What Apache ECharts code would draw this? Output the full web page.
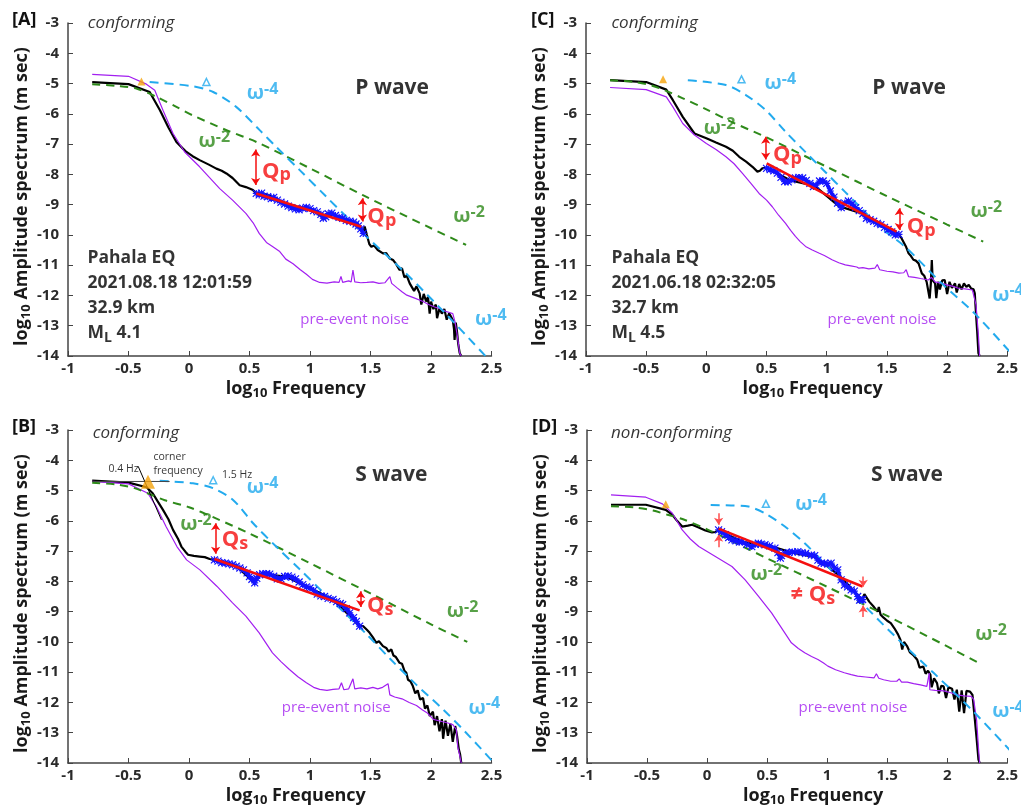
<!DOCTYPE html>
<html><head><meta charset="utf-8">
<script src="https://cdn.jsdelivr.net/npm/echarts@6/dist/echarts.min.js"></script>
<style>html,body{margin:0;padding:0;background:#fff}#c{width:1021px;height:809px}</style>
</head><body><div id="c"></div><script>
// ---------- tick labels ----------
const xTicks = [-1, -0.5, 0, 0.5, 1, 1.5, 2, 2.5];
const yTicks = [-14, -13, -12, -11, -10, -9, -8, -7, -6, -5, -4, -3];

// ---------- Panel A (P wave, 2021.08.18) ----------
const A_black = [[-0.8,-4.95],[-0.5,-5.02],[-0.325,-5.28],[-0.24,-5.88],[-0.17,-6.45],[-0.104,-6.93],[-0.05,-7.15],[-0.021,-7.26],[0.03,-7.4],[0.088,-7.53],[0.16,-7.67],[0.226,-7.81],[0.27,-7.88],[0.309,-7.97],[0.36,-8.12],[0.419,-8.36],[0.47,-8.42],[0.529,-8.52],[0.556,-8.63],
 [0.6,-8.62],[0.7,-8.76],[0.8,-9.0],[0.9,-9.15],[1.0,-9.13],[1.1,-9.4],[1.2,-9.33],[1.3,-9.52],[1.4,-9.7],[1.44,-9.9],
 [1.452,-9.72],[1.47,-10.0],[1.49,-10.3],[1.507,-10.39],[1.53,-10.35],[1.56,-10.5],[1.603,-10.61],[1.63,-10.6],[1.66,-10.78],[1.686,-10.83],[1.71,-10.95],[1.74,-11.16],[1.76,-11.1],[1.78,-11.4],[1.8,-11.35],[1.824,-11.6],[1.84,-11.55],[1.86,-11.85],[1.88,-11.7],[1.906,-11.93],[1.92,-12.3],[1.94,-11.95],[1.96,-12.2],[1.975,-12.05],[1.989,-12.6],[2.0,-12.2],[2.02,-12.45],[2.04,-12.3],[2.05,-12.75],[2.07,-12.43],[2.09,-12.6],[2.11,-12.45],[2.13,-12.8],[2.15,-12.59],[2.165,-12.7],[2.18,-12.81],[2.19,-13.1],[2.195,-13.47],[2.205,-12.9],[2.215,-13.2],[2.225,-13.6],[2.237,-13.9],[2.25,-14.0]];
const A_blue = [[0.556,-8.63],[0.58,-8.68],[0.6,-8.62],[0.62,-8.72],[0.65,-8.74],[0.68,-8.8],[0.7,-8.76],[0.73,-8.85],[0.76,-8.92],[0.79,-8.98],[0.82,-9.05],[0.85,-9.1],[0.88,-9.14],[0.91,-9.17],[0.94,-9.12],[0.97,-9.09],[1.0,-9.13],[1.03,-9.2],[1.06,-9.24],[1.09,-9.32],[1.11,-9.45],[1.13,-9.4],[1.15,-9.3],[1.18,-9.28],[1.21,-9.36],[1.24,-9.42],[1.27,-9.45],[1.3,-9.52],[1.33,-9.55],[1.36,-9.58],[1.38,-9.64],[1.4,-9.7],[1.42,-9.8],[1.44,-9.95]];
const A_noise = [[-0.8,-4.7],[-0.5,-4.76],[-0.352,-5.02],[-0.283,-5.22],[-0.215,-5.88],[-0.132,-6.65],[-0.036,-7.26],[0.088,-7.75],[0.254,-8.47],[0.36,-8.85],[0.47,-9.29],[0.53,-9.6],[0.58,-9.95],[0.64,-10.25],[0.69,-10.38],[0.75,-10.55],[0.8,-10.8],[0.86,-10.95],[0.92,-11.15],[0.97,-11.3],[1.02,-11.47],[1.08,-11.57],[1.14,-11.59],[1.2,-11.55],[1.24,-11.57],[1.256,-11.37],[1.27,-11.57],[1.32,-11.52],[1.34,-11.55],[1.355,-11.16],[1.37,-11.55],[1.42,-11.58],[1.47,-11.57],[1.52,-11.55],[1.57,-11.6],[1.62,-11.58],[1.66,-11.38],[1.675,-11.6],[1.72,-11.75],[1.76,-11.88],[1.8,-11.99],[1.86,-12.08],[1.935,-12.2],[1.98,-12.3],[2.03,-12.38],[2.07,-12.43],[2.12,-12.52],[2.18,-12.6],[2.2,-12.9],[2.22,-13.4],[2.237,-13.9],[2.25,-14.0]];
const A_omega2 = [[-0.8,-5.02],[-0.6,-5.08],[-0.43,-5.17],[-0.27,-5.44],[-0.1,-5.78],[0.03,-6.05],[0.31,-6.54],[0.557,-6.93],[1,-7.8],[1.433,-8.68],[2,-9.78],[2.29,-10.33]];
const A_omega4 = [[-0.325,-4.95],[0.033,-5.09],[0.2,-5.28],[0.39,-5.77],[0.584,-6.54],[0.72,-7.09],[0.915,-7.86],[1.135,-8.74],[1.3,-9.4],[1.452,-10.0],[1.8,-11.3],[2.12,-12.6],[2.45,-14.0]];
const A_fit = [[0.556,-8.63],[1.424,-9.73]];
const A_fc = [[-0.393,-4.93]];
const A_fc4 = [[0.144,-4.95]];

// ---------- Panel B (S wave, 2021.08.18) ----------
const B_black = [[-0.8,-4.67],[-0.5,-4.74],[-0.35,-4.89],[-0.3,-5.09],[-0.26,-5.35],[-0.215,-5.64],[-0.17,-5.95],[-0.132,-6.3],[-0.09,-6.6],[-0.063,-6.85],[-0.03,-7.02],[-0.008,-7.12],[0.04,-7.16],[0.088,-7.18],[0.13,-7.2],[0.171,-7.26],[0.21,-7.29],
 [0.4,-7.52],[0.54,-8.05],[0.6,-7.75],[0.8,-7.84],[1.0,-8.22],[1.2,-8.62],[1.41,-9.48],
 [1.42,-9.5],[1.44,-9.48],[1.47,-9.6],[1.493,-9.7],[1.52,-9.85],[1.548,-10.03],[1.57,-9.98],[1.603,-10.14],[1.63,-10.2],[1.65,-10.32],[1.672,-10.25],[1.69,-10.45],[1.71,-10.5],[1.74,-10.69],[1.76,-10.72],[1.78,-10.95],[1.796,-11.02],[1.81,-11.25],[1.83,-11.3],[1.85,-11.46],[1.87,-11.7],[1.89,-11.6],[1.91,-11.9],[1.934,-11.85],[1.95,-12.2],[1.97,-12.1],[1.99,-12.45],[2.016,-12.3],[2.03,-12.75],[2.05,-12.45],[2.07,-12.95],[2.09,-12.55],[2.1,-13.2],[2.12,-12.6],[2.14,-13.1],[2.16,-12.7],[2.18,-13.3],[2.2,-12.78],[2.215,-13.1],[2.23,-13.55],[2.24,-13.7],[2.25,-14.0]];
const B_blue = [[0.21,-7.29],[0.24,-7.33],[0.27,-7.38],[0.3,-7.4],[0.33,-7.42],[0.36,-7.45],[0.39,-7.5],[0.42,-7.56],[0.45,-7.62],[0.48,-7.72],[0.5,-7.84],[0.52,-7.93],[0.543,-8.05],[0.56,-7.9],[0.584,-7.78],[0.61,-7.75],[0.64,-7.75],[0.667,-7.76],[0.7,-7.83],[0.73,-7.92],[0.76,-7.92],[0.79,-7.84],[0.82,-7.82],[0.85,-7.86],[0.88,-7.92],[0.91,-8.02],[0.94,-8.11],[0.97,-8.18],[1.0,-8.22],[1.03,-8.3],[1.06,-8.42],[1.09,-8.48],[1.12,-8.5],[1.15,-8.56],[1.19,-8.6],[1.22,-8.67],[1.25,-8.73],[1.27,-8.77],[1.3,-8.9],[1.328,-9.04],[1.36,-9.2],[1.383,-9.32],[1.41,-9.48]];
const B_noise = [[-0.8,-4.7],[-0.5,-4.78],[-0.34,-5.09],[-0.27,-5.53],[-0.19,-6.19],[-0.1,-6.85],[-0.02,-7.29],[0.09,-7.62],[0.23,-8.16],[0.36,-8.71],[0.47,-9.15],[0.58,-9.7],[0.69,-10.36],[0.76,-10.65],[0.83,-10.91],[0.9,-11.15],[0.97,-11.35],[1.03,-11.5],[1.08,-11.57],[1.14,-11.6],[1.19,-11.57],[1.24,-11.55],[1.26,-11.35],[1.28,-11.58],[1.32,-11.55],[1.355,-11.22],[1.37,-11.55],[1.42,-11.52],[1.47,-11.55],[1.52,-11.5],[1.56,-11.55],[1.6,-11.5],[1.645,-11.38],[1.66,-11.75],[1.7,-11.82],[1.76,-11.88],[1.82,-12.0],[1.88,-12.1],[1.93,-12.25],[1.97,-12.35],[2.02,-12.56],[2.08,-12.62],[2.14,-12.68],[2.18,-12.73],[2.21,-12.9],[2.22,-13.44],[2.24,-13.8],[2.25,-14.0]];
const B_omega2 = [[-0.8,-4.74],[-0.6,-4.8],[-0.45,-4.92],[-0.33,-5.11],[-0.2,-5.32],[0,-5.55],[0.2,-5.88],[0.5,-6.42],[1,-7.4],[1.5,-8.4],[2,-9.42],[2.3,-10.0]];
const B_omega4 = [[-0.242,-4.68],[0.033,-4.76],[0.198,-4.92],[0.364,-5.31],[0.53,-6.08],[0.72,-6.85],[0.915,-7.6],[1.107,-8.36],[1.27,-8.98],[1.466,-9.74],[1.66,-10.55],[1.88,-11.42],[2.1,-12.23],[2.29,-13.0],[2.51,-13.95]];
const B_fit = [[0.21,-7.26],[1.41,-8.96]];
const B_fc = [[-0.339,-4.71]];
const B_fc4 = [[0.2,-4.66]];
const B_flatLine = [[-0.8,-4.7],[-0.16,-4.7]];
const B_slopeLine = [[-0.42,-4.2],[-0.228,-5.97]];

// ---------- Panel C (P wave, 2021.06.18) ----------
const C_black = [[-0.8,-4.89],[-0.5,-4.95],[-0.333,-5.2],[-0.278,-5.55],[-0.196,-6.1],[-0.099,-6.65],[0,-6.81],[0.08,-6.95],[0.163,-7.09],[0.22,-7.22],[0.273,-7.42],[0.33,-7.58],[0.383,-7.75],[0.424,-7.91],[0.445,-7.88],[0.465,-7.8],[0.5,-7.78],
 [0.7,-8.2],[0.9,-8.38],[1.1,-9.05],[1.3,-9.3],[1.5,-9.82],[1.6,-9.98],
 [1.62,-10.1],[1.64,-10.25],[1.66,-10.4],[1.68,-10.61],[1.7,-10.7],[1.72,-10.82],[1.74,-10.85],[1.763,-10.94],[1.78,-11.15],[1.79,-11.27],[1.81,-11.35],[1.83,-11.55],[1.845,-11.49],[1.855,-12.1],[1.865,-11.6],[1.873,-10.83],[1.88,-11.5],[1.9,-11.6],[1.91,-12.09],[1.925,-11.55],[1.94,-11.8],[1.96,-11.5],[1.98,-11.49],[2.0,-11.95],[2.02,-11.55],[2.04,-11.75],[2.066,-11.6],[2.08,-11.9],[2.1,-11.62],[2.12,-11.8],[2.14,-11.6],[2.16,-11.72],[2.18,-11.65],[2.2,-11.77],[2.22,-11.8],[2.23,-11.93],[2.24,-12.6],[2.25,-13.2],[2.26,-13.9],[2.27,-14.0]];
const C_blue = [[0.5,-7.8],[0.53,-7.84],[0.56,-7.88],[0.59,-7.96],[0.62,-8.1],[0.65,-8.24],[0.68,-8.25],[0.71,-8.18],[0.74,-8.12],[0.77,-8.1],[0.8,-8.12],[0.83,-8.2],[0.86,-8.3],[0.89,-8.4],[0.91,-8.36],[0.94,-8.22],[0.97,-8.22],[1.0,-8.3],[1.03,-8.55],[1.06,-8.75],[1.09,-8.95],[1.12,-9.1],[1.15,-8.95],[1.18,-8.88],[1.21,-8.98],[1.24,-9.1],[1.27,-9.2],[1.3,-9.3],[1.33,-9.45],[1.36,-9.5],[1.39,-9.55],[1.42,-9.62],[1.45,-9.66],[1.48,-9.75],[1.51,-9.82],[1.54,-9.9],[1.57,-10.0],[1.6,-9.98]];
const C_noise = [[-0.8,-5.13],[-0.5,-5.2],[-0.333,-5.44],[-0.278,-5.77],[-0.196,-6.32],[-0.099,-6.7],[0,-6.98],[0.08,-7.18],[0.163,-7.42],[0.23,-7.65],[0.3,-7.97],[0.37,-8.3],[0.438,-8.63],[0.5,-8.85],[0.548,-9.07],[0.6,-9.35],[0.658,-9.62],[0.7,-9.85],[0.74,-10.05],[0.78,-10.22],[0.824,-10.38],[0.88,-10.5],[0.934,-10.6],[0.98,-10.68],[1.044,-10.82],[1.1,-10.92],[1.154,-10.99],[1.2,-11.02],[1.25,-11.06],[1.267,-11.1],[1.3,-11.08],[1.35,-11.12],[1.4,-11.1],[1.42,-10.98],[1.44,-11.15],[1.5,-11.2],[1.55,-11.22],[1.6,-11.26],[1.64,-11.25],[1.66,-11.15],[1.68,-11.38],[1.73,-11.4],[1.78,-11.44],[1.845,-11.49],[1.87,-11.4],[1.9,-11.55],[1.955,-11.6],[2.0,-11.65],[2.05,-11.7],[2.1,-11.77],[2.15,-11.78],[2.21,-11.82],[2.24,-12.3],[2.26,-13.3],[2.27,-14.0]];
const C_omega2 = [[-0.8,-4.89],[-0.6,-4.95],[-0.45,-5.07],[-0.33,-5.25],[-0.2,-5.48],[0,-5.85],[0.2,-6.25],[0.5,-6.78],[1,-7.75],[1.5,-8.72],[2,-9.66],[2.3,-10.22]];
const C_omega4 = [[-0.154,-4.89],[0.163,-5.05],[0.328,-5.38],[0.493,-5.88],[0.66,-6.6],[0.82,-7.25],[0.99,-7.93],[1.15,-8.57],[1.3,-9.17],[1.45,-9.77],[1.653,-10.4],[1.955,-11.6],[2.23,-12.6],[2.53,-13.9]];
const C_fit = [[0.501,-7.64],[1.58,-9.89]];
const C_fc = [[-0.36,-4.86]];
const C_fc4 = [[0.292,-4.86]];

// ---------- Panel D (S wave, 2021.06.18) ----------
const D_black = [[-0.8,-5.47],[-0.51,-5.47],[-0.344,-5.64],[-0.289,-5.8],[-0.25,-6.0],[-0.207,-6.19],[-0.16,-6.16],[-0.124,-6.13],[-0.07,-6.22],[-0.014,-6.32],[0.041,-6.38],[0.07,-6.37],[0.096,-6.32],
 [0.3,-6.7],[0.5,-6.8],[0.7,-7.04],[0.9,-7.2],[1.1,-7.8],[1.29,-8.6],
 [1.3,-8.55],[1.31,-8.42],[1.32,-8.38],[1.35,-8.67],[1.39,-8.85],[1.42,-9.0],[1.43,-8.85],[1.445,-9.1],[1.47,-9.2],[1.5,-9.3],[1.53,-9.38],[1.56,-9.55],[1.59,-9.75],[1.61,-9.93],[1.625,-10.25],[1.64,-10.0],[1.667,-10.15],[1.69,-10.35],[1.72,-10.45],[1.75,-10.59],[1.77,-10.85],[1.8,-10.81],[1.82,-11.05],[1.84,-10.95],[1.86,-11.09],[1.87,-11.5],[1.89,-11.2],[1.915,-11.36],[1.93,-11.7],[1.95,-11.45],[1.97,-11.47],[1.99,-11.85],[2.01,-11.5],[2.04,-11.55],[2.06,-11.9],[2.08,-11.58],[2.1,-12.3],[2.12,-11.6],[2.14,-12.35],[2.16,-11.62],[2.19,-11.64],[2.21,-11.75],[2.22,-11.8],[2.23,-12.57],[2.245,-13.2],[2.26,-13.89],[2.27,-14.0]];
const D_blue = [[0.096,-6.3],[0.12,-6.36],[0.152,-6.46],[0.18,-6.55],[0.207,-6.63],[0.24,-6.66],[0.27,-6.7],[0.29,-6.69],[0.33,-6.78],[0.372,-6.85],[0.4,-6.78],[0.427,-6.74],[0.45,-6.77],[0.482,-6.79],[0.52,-6.83],[0.565,-6.9],[0.59,-7.05],[0.61,-7.23],[0.62,-7.15],[0.647,-7.07],[0.68,-7.05],[0.71,-7.03],[0.756,-7.02],[0.79,-7.05],[0.82,-7.08],[0.868,-7.13],[0.896,-7.15],[0.923,-7.3],[0.95,-7.4],[0.978,-7.4],[1.006,-7.43],[1.033,-7.4],[1.06,-7.55],[1.088,-7.62],[1.116,-7.95],[1.144,-8.12],[1.17,-8.18],[1.2,-8.28],[1.226,-8.32],[1.254,-8.5],[1.27,-8.62],[1.28,-8.6],[1.295,-8.6]];
const D_noise = [[-0.8,-5.14],[-0.51,-5.22],[-0.372,-5.44],[-0.289,-5.75],[-0.207,-6.3],[-0.14,-6.6],[-0.069,-6.85],[0.069,-7.18],[0.207,-7.51],[0.317,-7.95],[0.427,-8.49],[0.537,-9.04],[0.647,-9.7],[0.702,-10.03],[0.76,-10.22],[0.813,-10.36],[0.87,-10.48],[0.923,-10.58],[0.97,-10.7],[1.006,-10.8],[1.07,-10.92],[1.143,-11.02],[1.2,-11.08],[1.253,-11.13],[1.32,-11.16],[1.39,-11.19],[1.41,-11.05],[1.43,-11.2],[1.47,-11.25],[1.53,-11.3],[1.58,-11.3],[1.6,-11.22],[1.62,-11.33],[1.667,-11.33],[1.72,-11.38],[1.777,-11.42],[1.83,-11.47],[1.845,-11.5],[1.85,-11.03],[1.855,-11.58],[1.9,-11.6],[1.97,-11.62],[2.03,-11.68],[2.08,-11.75],[2.14,-11.78],[2.2,-11.8],[2.22,-11.9],[2.245,-12.6],[2.26,-13.5],[2.27,-14.0]];
const D_omega2 = [[-0.8,-5.52],[-0.6,-5.56],[-0.45,-5.66],[-0.33,-5.8],[-0.2,-5.95],[0,-6.28],[0.2,-6.66],[0.5,-7.24],[1,-8.18],[1.5,-9.14],[2,-10.15],[2.29,-10.75]];
const D_omega4 = [[0.03,-5.48],[0.2,-5.49],[0.345,-5.53],[0.48,-5.75],[0.648,-6.19],[0.813,-6.74],[0.923,-7.18],[1.1,-7.9],[1.335,-8.9],[1.6,-9.95],[1.888,-11.03],[2.218,-12.3],[2.55,-13.7]];
const D_fit = [[0.096,-6.26],[1.295,-8.17]];
const D_fc = [[-0.344,-5.45]];
const D_fc4 = [[0.49,-5.44]];

// ---------- styling ----------
const FONT = "'Open Sans', 'Noto Sans', 'DejaVu Sans', sans-serif";
const COL = {black:'#000000', noise:'#a21ff0', green:'#2e8a1a', cyan:'#22aaee', blue:'#1414ff', red:'#f50f0f', orange:'#f5a20a', arrowLight:'#ff4d4d'};

function rich(color) {
  return {
    t: {fontFamily: FONT, fontSize: 17.5, fontWeight: 'bold', color, lineHeight: 24},
    ts: {fontFamily: FONT, fontSize: 14, fontWeight: 'bold', color, lineHeight: 14, verticalAlign: 'bottom'},
    w: {fontFamily: FONT, fontSize: 20, fontWeight: 'bold', color, lineHeight: 24},
    sup: {fontFamily: FONT, fontSize: 16, fontWeight: 'bold', color, lineHeight: 22, verticalAlign: 'top'},
    q: {fontFamily: FONT, fontSize: 22, fontWeight: 'bold', color, lineHeight: 26},
    qs: {fontFamily: FONT, fontSize: 18, fontWeight: 'bold', color, lineHeight: 16, verticalAlign: 'bottom'},
    it: {fontFamily: FONT, fontSize: 17, fontStyle: 'italic', color, lineHeight: 22},
    big: {fontFamily: FONT, fontSize: 21, fontWeight: 'bold', color, lineHeight: 26},
    n: {fontFamily: FONT, fontSize: 15, color, lineHeight: 20},
    sm: {fontFamily: FONT, fontSize: 10.5, color, lineHeight: 13}
  };
}
function ann(x, y, text, color) {
  return {value: [x, y], label: {show: true, position: 'right', distance: 0, formatter: text, rich: rich(color), color}};
}
const W4 = '{w|ω}{sup|-4}', W2 = '{w|ω}{sup|-2}';

const panels = [
  {key: 'A', left: 68, top: 23, black: A_black, blue: A_blue, noise: A_noise, w2: A_omega2, w4: A_omega4, fit: A_fit, fc: A_fc, fc4: A_fc4, fcSize: 8,
   arrows: [[[0.551,-7.18],[0.551,-8.35]], [[1.433,-8.79],[1.433,-9.56]]], single: [],
   texts: [ann(-0.84,-3.02,'{it|conforming}','#000'), ann(1.37,-5.16,'{big|P wave}','#000'),
     ann(0.474,-5.33,W4,COL.cyan), ann(0.075,-6.92,W2,COL.green), ann(2.18,-9.4,W2,COL.green), ann(2.36,-12.8,W4,COL.cyan),
     ann(0.6,-7.9,'{q|Q}{qs|p}',COL.red), ann(1.47,-9.4,'{q|Q}{qs|p}',COL.red),
     ann(-0.843,-10.77,'{t|Pahala EQ}','#000'), ann(-0.843,-11.59,'{t|2021.08.18 12:01:59}','#000'), ann(-0.843,-12.42,'{t|32.9 km}','#000'), ann(-0.843,-13.24,'{t|M}{ts|L}{t| 4.1}','#000'),
     ann(0.915,-12.8,'{n|pre-event noise}',COL.noise)]},
  {key: 'B', left: 68, top: 430, black: B_black, blue: B_blue, noise: B_noise, w2: B_omega2, w4: B_omega4, fit: B_fit, fc: B_fc, fc4: B_fc4, fcSize: 14,
   arrows: [[[0.22,-6.08],[0.22,-7.09]], [[1.419,-8.33],[1.419,-8.85]]], single: [],
   texts: [ann(-0.8,-3.11,'{it|conforming}','#000'), ann(1.37,-4.48,'{big|S wave}','#000'),
     ann(0.474,-4.89,W4,COL.cyan), ann(-0.077,-6.13,W2,COL.green), ann(2.127,-8.99,W2,COL.green), ann(2.306,-12.18,W4,COL.cyan),
     ann(0.267,-6.63,'{q|Q}{qs|s}',COL.red), ann(1.466,-8.82,'{q|Q}{qs|s}',COL.red),
     ann(0.763,-12.18,'{n|pre-event noise}',COL.noise),
     ann(-0.67,-4.28,'{sm|0.4 Hz}','#000'), ann(-0.298,-3.88,'{sm|corner}','#000'), ann(-0.298,-4.35,'{sm|frequency}','#000'), ann(0.268,-4.49,'{sm|1.5 Hz}','#000')]},
  {key: 'C', left: 586, top: 23, black: C_black, blue: C_blue, noise: C_noise, w2: C_omega2, w4: C_omega4, fit: C_fit, fc: C_fc, fc4: C_fc4, fcSize: 8,
   arrows: [[[0.493,-6.76],[0.493,-7.51]], [[1.603,-9.12],[1.603,-9.84]]], single: [],
   texts: [ann(-0.793,-3.02,'{it|conforming}','#000'), ann(1.375,-5.16,'{big|P wave}','#000'),
     ann(0.479,-5.0,W4,COL.cyan), ann(-0.025,-6.48,W2,COL.green), ann(2.19,-9.23,W2,COL.green), ann(2.37,-11.98,W4,COL.cyan),
     ann(0.55,-7.36,'{q|Q}{qs|p}',COL.red), ann(1.66,-9.73,'{q|Q}{qs|p}',COL.red),
     ann(-0.793,-10.77,'{t|Pahala EQ}','#000'), ann(-0.793,-11.59,'{t|2021.06.18 02:32:05}','#000'), ann(-0.793,-12.42,'{t|32.7 km}','#000'), ann(-0.793,-13.24,'{t|M}{ts|L}{t| 4.5}','#000'),
     ann(1.003,-12.8,'{n|pre-event noise}',COL.noise)]},
  {key: 'D', left: 587, top: 430, black: D_black, blue: D_blue, noise: D_noise, w2: D_omega2, w4: D_omega4, fit: D_fit, fc: D_fc, fc4: D_fc4, fcSize: 8,
   arrows: [], single: [[[0.096,-5.75],[0.096,-6.13]], [[0.096,-6.87],[0.096,-6.46]], [[1.3,-7.84],[1.3,-8.18]], [[1.3,-9.18],[1.3,-8.8]]],
   texts: [ann(-0.804,-3.11,'{it|non-conforming}','#000'), ann(1.36,-4.48,'{big|S wave}','#000'),
     ann(0.73,-5.47,W4,COL.cyan), ann(0.358,-7.78,W2,COL.green), ann(2.23,-9.76,W2,COL.green), ann(2.37,-12.29,W4,COL.cyan),
     ann(0.69,-8.45,'{q|≠ Q}{qs|s}',COL.red),
     ann(0.758,-12.18,'{n|pre-event noise}',COL.noise)]}
];

const grids = [], xAxes = [], yAxes = [], series = [], graphics = [];
const axisText = {fontFamily: FONT, fontSize: 15, fontWeight: 'bold', color: '#2a2a2a'};
const nameRich = {
  a: {fontFamily: FONT, fontSize: 18, fontWeight: 'bold', color: '#1a1a1a', lineHeight: 22},
  b: {fontFamily: FONT, fontSize: 13, fontWeight: 'bold', color: '#1a1a1a', lineHeight: 14, verticalAlign: 'bottom'}
};
panels.forEach((p, i) => {
  grids.push({left: p.left, top: p.top, width: 423.5, height: 333});
  xAxes.push({type: 'value', gridIndex: i, min: xTicks[0], max: xTicks[xTicks.length - 1], interval: 0.5,
    axisLine: {onZero: false, lineStyle: {color: '#444', width: 1.5}}, axisTick: {inside: true, length: 5, lineStyle: {color: '#444'}},
    axisLabel: Object.assign({margin: 5}, axisText), splitLine: {show: false},
    name: '{a|log}{b|10}{a| Frequency}', nameLocation: 'middle', nameGap: 22,
    nameTextStyle: {rich: nameRich, padding: [0, 0, 0, 32]}});
  yAxes.push({type: 'value', gridIndex: i, min: yTicks[0], max: yTicks[yTicks.length - 1], interval: 1,
    axisLine: {show: true, onZero: false, lineStyle: {color: '#444', width: 1.5}}, axisTick: {show: true, inside: true, length: 5, lineStyle: {color: '#444'}},
    axisLabel: Object.assign({margin: 9}, axisText), splitLine: {show: false},
    name: '{a|log}{b|10}{a| Amplitude spectrum (m sec)}', nameLocation: 'middle', nameGap: 34, nameRotate: 90,
    nameTextStyle: {rich: nameRich, padding: [0, 14, 0, 0]}});
  const base = {xAxisIndex: i, yAxisIndex: i, animation: false, silent: true};
  const line = (data, style, extra) => Object.assign({type: 'line', data, showSymbol: false, symbol: 'none', lineStyle: style, z: 2}, base, extra || {});
  series.push(line(p.black, {color: COL.black, width: 2.2}, {z: 2}));
  series.push(line(p.noise, {color: COL.noise, width: 1.2}, {z: 3}));
  series.push(line(p.w2, {color: COL.green, width: 2, type: [8, 6]}, {z: 4, smooth: 0.3}));
  series.push(line(p.w4, {color: COL.cyan, width: 2, type: [9, 6]}, {z: 4, smooth: 0.3, clip: false}));
  series.push(Object.assign({type: 'line', data: p.blue, showSymbol: true, symbol: 'path://M0 0L10 10M10 0L0 10M5 0L5 10M0 5L10 5', symbolSize: 7,
    itemStyle: {color: 'rgba(0,0,0,0)', borderColor: COL.blue, borderWidth: 1.2}, lineStyle: {color: COL.blue, width: 3.5}, z: 5}, base));
  series.push(line(p.fit, {color: COL.red, width: 2.5}, {z: 6}));
  if (p.key === 'B') {
    series.push(line(B_flatLine, {color: '#444', width: 1}, {z: 6}));
    series.push(line(B_slopeLine, {color: '#000', width: 1}, {z: 6}));
  }
  series.push(Object.assign({type: 'scatter', data: p.fc, symbol: 'triangle', symbolSize: p.fcSize, itemStyle: {color: COL.orange}, z: 7}, base));
  series.push(Object.assign({type: 'scatter', data: p.fc4, symbol: 'triangle', symbolSize: 7, itemStyle: {color: '#fff', borderColor: COL.cyan, borderWidth: 1.5}, z: 7}, base));
  if (p.arrows.length) series.push(Object.assign({type: 'lines', coordinateSystem: 'cartesian2d', data: p.arrows.map(c => ({coords: c})),
    symbol: ['arrow', 'arrow'], symbolSize: 7, lineStyle: {color: COL.red, width: 1.5, opacity: 1}, z: 8}, base));
  if (p.single.length) series.push(Object.assign({type: 'lines', coordinateSystem: 'cartesian2d', data: p.single.map(c => ({coords: c})),
    symbol: ['none', 'arrow'], symbolSize: 7, lineStyle: {color: COL.arrowLight, width: 1.5, opacity: 1}, z: 8}, base));
  series.push(Object.assign({type: 'scatter', data: p.texts, symbolSize: 1, itemStyle: {color: 'rgba(0,0,0,0)'}, clip: false, z: 10}, base));
  graphics.push({type: 'text', left: p.left - (p.key === 'A' || p.key === 'B' ? 56 : 55), top: p.top - 12,
    style: {text: '[' + p.key + ']', font: "bold 18px " + FONT, fill: '#111'}});
});

const chart = echarts.init(document.getElementById('c'), null, {renderer: 'canvas'});
chart.setOption({animation: false, backgroundColor: '#fff', grid: grids, xAxis: xAxes, yAxis: yAxes, series, graphic: graphics});
</script></body></html>
